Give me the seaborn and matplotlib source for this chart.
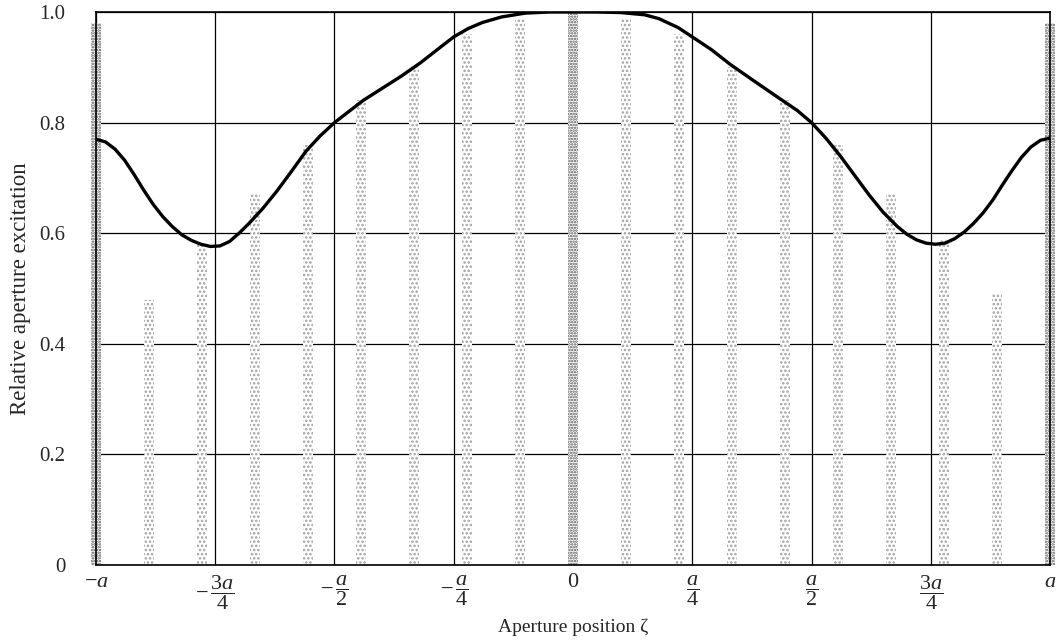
import numpy as np
import pandas as pd
import matplotlib
matplotlib.use('Agg')
import matplotlib.pyplot as plt
import seaborn as sns

# element positions (in units of a) and element excitations
element_pos = [-1.0, -8/9, -7/9, -6/9, -5/9, -4/9, -3/9, -2/9, -1/9, 0.0,
               1/9, 2/9, 3/9, 4/9, 5/9, 6/9, 7/9, 8/9, 1.0]
element_amp = [0.98, 0.48, 0.58, 0.67, 0.76, 0.84, 0.90, 0.96, 0.99, 1.0,
               0.99, 0.96, 0.90, 0.84, 0.76, 0.67, 0.59, 0.49, 0.98]

# continuous aperture distribution
curve_x = [-1.0, -0.98, -0.96, -0.94, -0.92, -0.90, -0.88, -0.86, -0.84, -0.82,
           -0.80, -0.78, -0.76, -0.74, -0.72, -0.70, -0.68, -0.65, -0.62, -0.59,
           -0.56, -0.53, -0.5, -0.47, -0.44, -0.40, -0.36, -0.32, -0.28,
           -0.25, -0.22, -0.19, -0.15, -0.10, -0.05, 0.0, 0.05, 0.10, 0.15, 0.18,
           0.22, 0.25, 0.29, 0.33, 0.38, 0.434, 0.47, 0.5, 0.53, 0.56, 0.59,
           0.62, 0.65, 0.68, 0.70, 0.72, 0.74, 0.76, 0.78, 0.80, 0.82, 0.84,
           0.86, 0.88, 0.90, 0.92, 0.94, 0.96, 0.98, 1.0]
curve_y = [0.770, 0.765, 0.752, 0.732, 0.706, 0.678, 0.652, 0.630, 0.612, 0.597,
           0.587, 0.580, 0.576, 0.577, 0.585, 0.600, 0.617, 0.645, 0.677, 0.712,
           0.748, 0.776, 0.800, 0.820, 0.840, 0.862, 0.884, 0.908, 0.935,
           0.955, 0.970, 0.981, 0.991, 0.998, 1.0, 1.0, 1.0, 0.999, 0.995, 0.988,
           0.972, 0.955, 0.932, 0.905, 0.875, 0.843, 0.822, 0.800, 0.772, 0.740,
           0.705, 0.670, 0.638, 0.612, 0.598, 0.588, 0.582, 0.580, 0.582, 0.590,
           0.602, 0.618, 0.637, 0.660, 0.687, 0.713, 0.737, 0.756, 0.768, 0.772]

xtick_pos = [-1, -0.75, -0.5, -0.25, 0, 0.25, 0.5, 0.75, 1]
xtick_lab = [r'$-a$', r'$-\,\dfrac{3a}{4}$', r'$-\,\dfrac{a}{2}$', r'$-\,\dfrac{a}{4}$', '0',
             r'$\dfrac{a}{4}$', r'$\dfrac{a}{2}$', r'$\dfrac{3a}{4}$', r'$a$']
ytick_pos = [0, 0.2, 0.4, 0.6, 0.8, 1.0]
ytick_lab = ['0', '0.2', '0.4', '0.6', '0.8', '1.0']

sns.set_style('white')
plt.rcParams['font.family'] = ['Liberation Serif', 'DejaVu Serif']
plt.rcParams['mathtext.fontset'] = 'custom'
plt.rcParams['mathtext.rm'] = 'Liberation Serif'
plt.rcParams['mathtext.it'] = 'Liberation Serif:italic'
plt.rcParams['hatch.linewidth'] = 1.2

fig = plt.figure(figsize=(10.57, 6.42), dpi=100)
ax = fig.add_axes([0.0908, 0.12, 0.9026, 0.8613])

bars = pd.DataFrame({'pos': element_pos, 'amp': element_amp})
sns.barplot(data=bars, x='pos', y='amp', native_scale=True, width=0.18,
            color='white', errorbar=None, ax=ax, zorder=1)
n = len(element_pos)
for i, p in enumerate(ax.patches):
    dark = i in (0, n // 2, n - 1)
    p.set_facecolor('white')
    p.set_edgecolor('#555555' if dark else '#a0a0a0')
    p.set_linewidth(0)
    p.set_hatch('......' if dark else '....')
    if i in (0, n - 1):
        p.set_clip_on(False)

curve = pd.DataFrame({'x': curve_x, 'y': curve_y})
sns.lineplot(data=curve, x='x', y='y', color='black', linewidth=2.4, ax=ax, zorder=3)

ax.set_xlim(-1, 1)
ax.set_ylim(0, 1.0)
ax.set_xticks(xtick_pos)
ax.set_xticklabels(xtick_lab, fontsize=16)
ax.set_yticks(ytick_pos)
ax.set_yticklabels(ytick_lab, fontsize=15)
for lab in ax.get_xticklabels():
    lab.set_verticalalignment('top')
ax.tick_params(axis='x', length=0, pad=6)
ax.tick_params(axis='y', length=0, pad=22)
ax.grid(True, color='black', linewidth=0.9)
ax.set_axisbelow(True)
for s in ax.spines.values():
    s.set_color('black')
    s.set_linewidth(1.2)

ax.set_xlabel('Aperture position ζ', fontsize=14)
ax.xaxis.set_label_coords(0.5, -0.112)
ax.xaxis.label.set_verticalalignment('center')
ax.set_ylabel('Relative aperture excitation', fontsize=16.5)
ax.yaxis.set_label_coords(-0.068, 0.5)

fig.savefig('out.png', dpi=100)
